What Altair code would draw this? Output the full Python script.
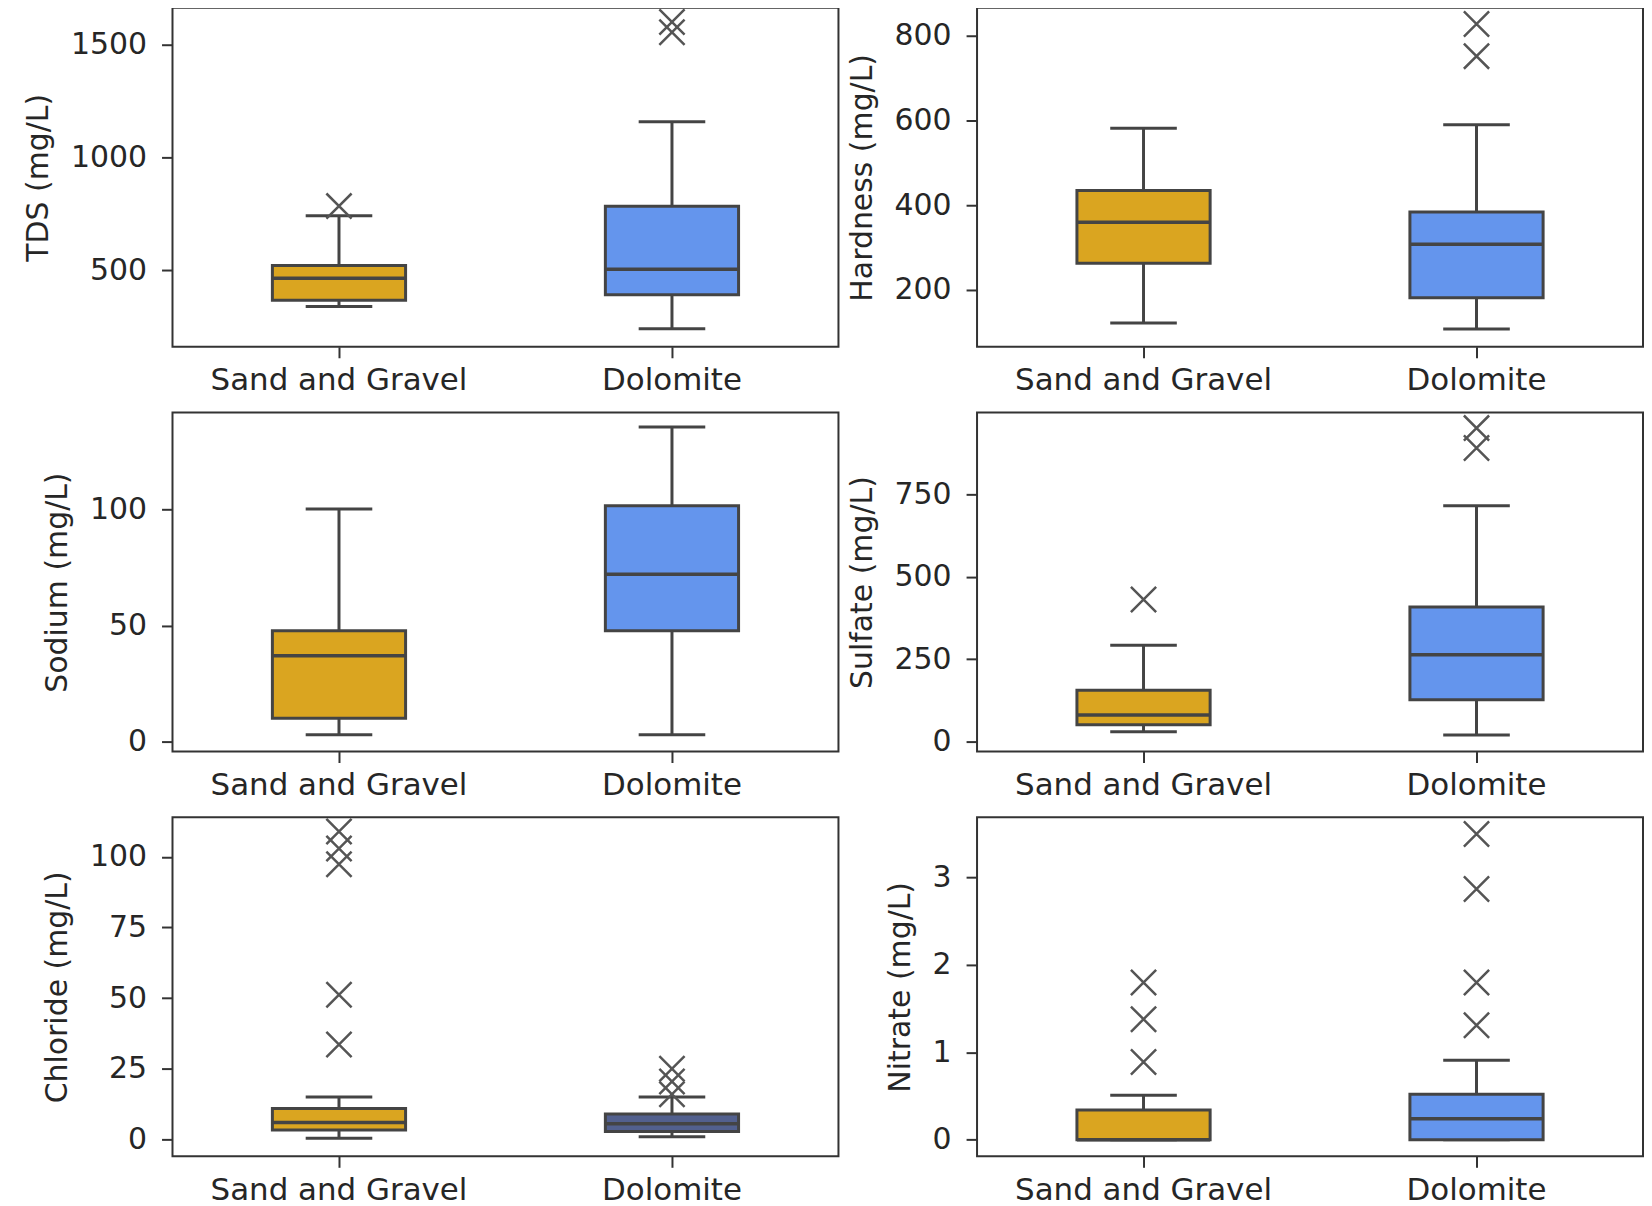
import altair as alt
import pandas as pd

groups = ["Sand and Gravel", "Dolomite"]
colors = ["#DAA520", "#6495ED"]
chloride_colors = ["#DAA520", "#52608E"]

# five-number summaries per group: [lower whisker, Q1, median, Q3, upper whisker]
tds_stats = [[340, 368, 466, 522, 742], [242, 393, 505, 784, 1159]]
tds_out = [[785], [1600, 1555]]

hard_stats = [[122, 263, 360, 435, 582], [108, 182, 308, 384, 590]]
hard_out = [[], [828, 752]]

sod_stats = [[2.9, 10.1, 37, 47.8, 100.3], [2.9, 47.8, 72.1, 101.7, 135.6]]
sod_out = [[], []]

sulf_stats = [[30, 51, 81, 156, 292], [20, 127, 263, 408, 715]]
sulf_out = [[431], [950, 890]]

chl_stats = [[0.4, 3.3, 6.0, 10.9, 15], [0.9, 2.8, 5.5, 9.0, 15]]
chl_out = [[109, 103, 97.4, 51.2, 33.6], [25, 20.5, 16]]

nit_stats = [[0, 0, 0, 0.34, 0.51], [0, 0, 0.24, 0.52, 0.91]]
nit_out = [[1.80, 1.38, 0.89], [3.50, 2.87, 1.80, 1.31]]

panels_spec = [
    ("TDS (mg/L)", tds_stats, tds_out, [162, 1663], [500, 1000, 1500], colors),
    ("Hardness  (mg/L)", hard_stats, hard_out, [66, 866], [200, 400, 600, 800], colors),
    ("Sodium (mg/L)", sod_stats, sod_out, [-4.3, 141.8], [0, 50, 100], colors),
    ("Sulfate (mg/L)", sulf_stats, sulf_out, [-30, 997], [0, 250, 500, 750], colors),
    ("Chloride (mg/L)", chl_stats, chl_out, [-6, 114], [0, 25, 50, 75, 100], chloride_colors),
    ("Nitrate (mg/L)", nit_stats, nit_out, [-0.19, 3.69], [0, 1, 2, 3], colors),
]

EDGE = "#444444"
W, H = 668, 340
BAND = 0.2 * W
XPATH = "M-1,-1L1,1M1,-1L-1,1"


def panel(title, stats, outs, domain, ticks, cols):
    box = pd.DataFrame({
        "group": groups,
        "fill": cols,
        "lo": [s[0] for s in stats],
        "q1": [s[1] for s in stats],
        "med": [s[2] for s in stats],
        "q3": [s[3] for s in stats],
        "hi": [s[4] for s in stats],
    })
    rows = [{"group": g, "v": v} for g, vs in zip(groups, outs) for v in vs]
    out_df = pd.DataFrame(rows if rows else {"group": [], "v": []})

    x = alt.X("group:N", sort=groups,
              scale=alt.Scale(domain=groups, paddingInner=0.6, paddingOuter=0.3),
              axis=alt.Axis(title=None, labelAngle=0, labelPadding=8, labelFontSize=31))
    yaxis = alt.Axis(title=title, values=ticks, format="d",
                     labelPadding=15, titlePadding=17)
    ysc = alt.Scale(domain=domain, nice=False, zero=False)

    def Y(f):
        return alt.Y(f, scale=ysc, axis=yaxis, title=title)

    base = alt.Chart(box)
    whisk = base.mark_rule(color=EDGE, strokeWidth=3).encode(x=x, y=Y("lo:Q"), y2="hi:Q")
    cap_lo = base.mark_tick(color=EDGE, size=BAND / 2, thickness=3, opacity=1).encode(x=x, y=Y("lo:Q"))
    cap_hi = base.mark_tick(color=EDGE, size=BAND / 2, thickness=3, opacity=1).encode(x=x, y=Y("hi:Q"))
    boxes = base.mark_bar(stroke=EDGE, strokeWidth=3, opacity=1).encode(
        x=x, y=Y("q1:Q"), y2="q3:Q",
        color=alt.Color("fill:N", scale=None, legend=None))
    med = base.mark_tick(color=EDGE, size=BAND, thickness=3.5, opacity=1).encode(x=x, y=Y("med:Q"))
    layers = [whisk, cap_lo, cap_hi, boxes, med]
    if rows:
        outl = alt.Chart(out_df).mark_point(shape=XPATH, size=640, filled=False, clip=True,
                                            color="#555555", strokeWidth=2.5, opacity=1).encode(
            x=x, y=Y("v:Q"))
        layers.append(outl)
    return alt.layer(*layers).properties(width=W, height=H)


charts = [panel(*p) for p in panels_spec]

chart = alt.concat(*charts, columns=2, spacing={"row": 15, "column": 6}).properties(
    padding={"left": 14, "top": -3, "right": 0, "bottom": 0},
    background="white",
).configure_view(
    stroke="#333333", strokeWidth=2
).configure_axis(
    domain=False, grid=False, tickColor="#333333", tickSize=11, tickWidth=2,
    labelFont="DejaVu Sans", labelFontSize=30, labelColor="#262626", labelLimit=0,
    titleFont="DejaVu Sans", titleFontSize=30, titleFontWeight="normal", titleColor="#262626",
)

chart.save("out.html", embed_options={"renderer": "svg", "actions": False})
